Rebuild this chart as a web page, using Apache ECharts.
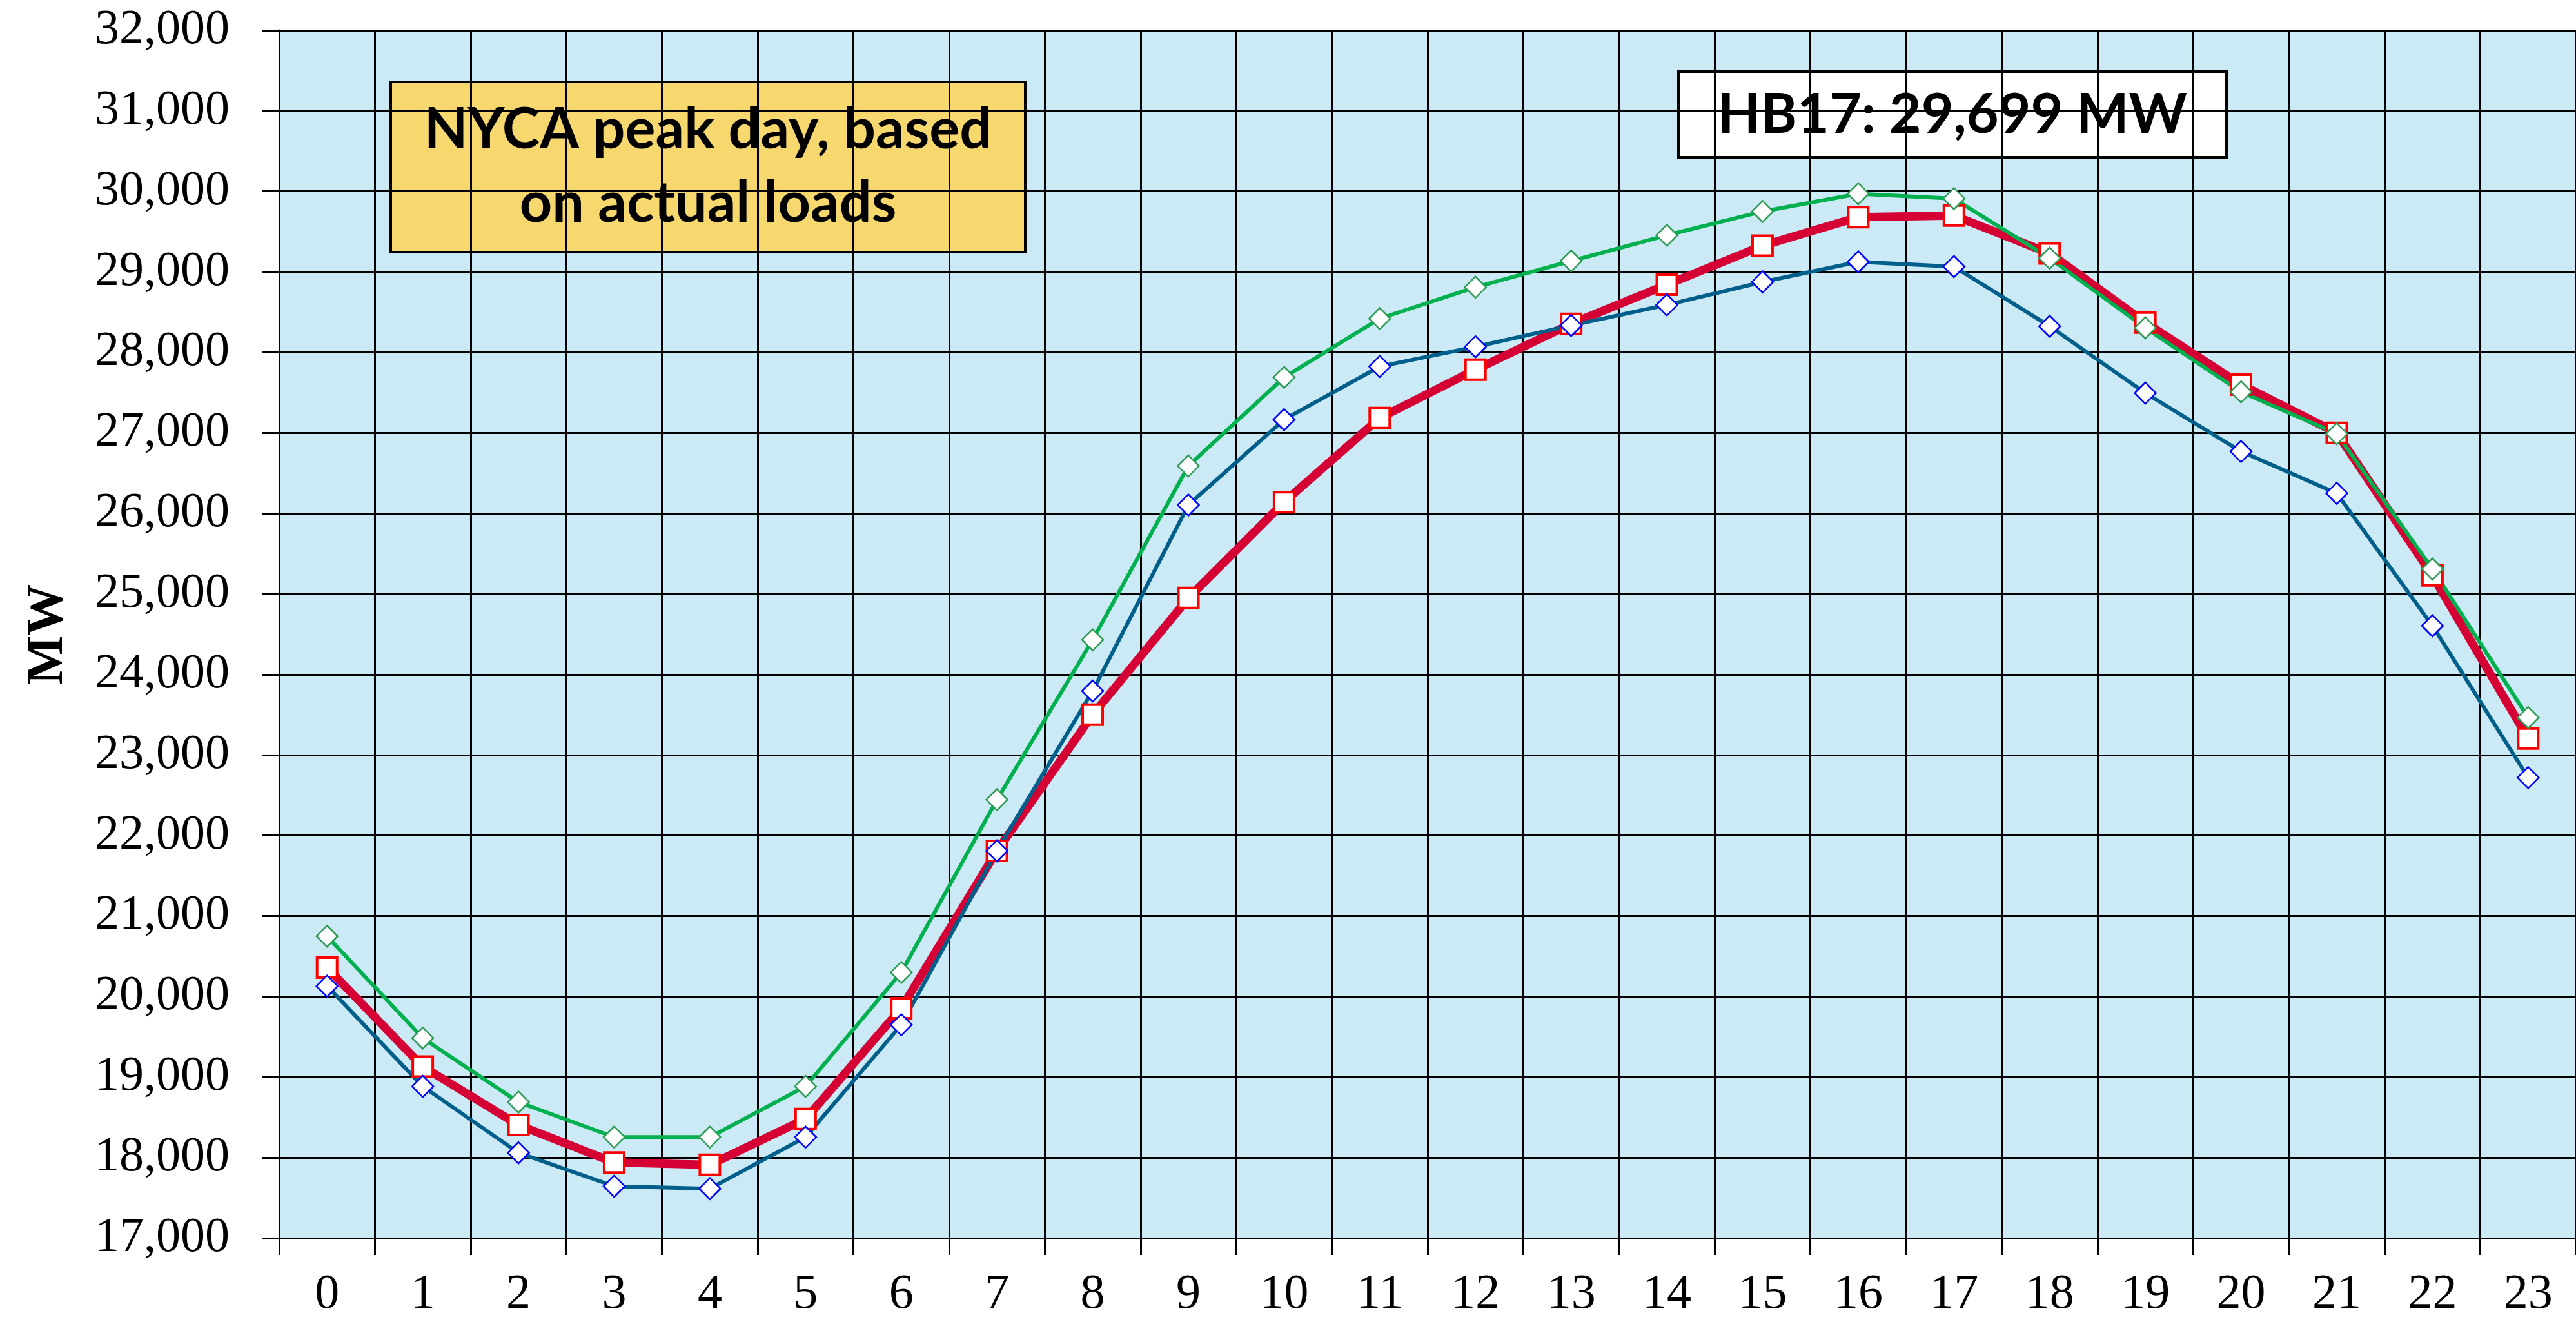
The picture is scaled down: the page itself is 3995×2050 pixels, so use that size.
<!DOCTYPE html>
<html>
<head>
    <meta charset="utf-8">
    <title>NYCA peak day</title>
    <script src="https://cdn.jsdelivr.net/npm/echarts@6/dist/echarts.min.js"></script>
    <style>
        body { margin: 0; background: #fff; }
    </style>
</head>
<body>
    <div id="main" style="width: 3995px;height:2050px;"></div>
    <script type="text/javascript">
// hour of day
var hours = ['0','1','2','3','4','5','6','7','8','9','10','11','12','13','14','15','16','17','18','19','20','21','22','23'];

// peak day, actual loads (red squares)
var actualLoad = [20360, 19130, 18405, 17940, 17910, 18480, 19855, 21810, 23500, 24950, 26140, 27185,
                  27785, 28355, 28840, 29325, 29680, 29699, 29230, 28370, 27600, 27000, 25230, 23205];
// lower profile (blue diamonds)
var profileLow = [20130, 18885, 18060, 17645, 17615, 18255, 19650, 21810, 23795, 26105, 27165, 27825,
                  28070, 28335, 28590, 28875, 29125, 29065, 28325, 27495, 26770, 26250, 24605, 22720];
// upper profile (green diamonds)
var profileHigh = [20750, 19485, 18690, 18255, 18255, 18885, 20300, 22445, 24430, 26590, 27690, 28420,
                   28810, 29135, 29455, 29750, 29970, 29910, 29170, 28305, 27510, 26990, 25310, 23465];

var yMin = 17000, yMax = 32000, yStep = 1000;

var serif = "'Liberation Serif', 'Times New Roman', serif";
var boxFont = "Lato, 'Noto Sans', sans-serif";

function withCommas(v) {
    return String(v).replace(/\B(?=(\d{3})+(?!\d))/g, ',');
}

var myChart = echarts.init(document.getElementById('main'));

option = {
    animation: false,
    backgroundColor: '#ffffff',
    grid: {
        show: true,
        left: 433,
        top: 47,
        width: 3576,
        bottom: 130,
        backgroundColor: '#cceaf5',
        borderWidth: 0
    },
    xAxis: {
        type: 'category',
        data: hours,
        boundaryGap: true,
        axisLine: { show: true, lineStyle: { color: '#000', width: 3 } },
        axisTick: { show: true, interval: 0, length: 26, lineStyle: { color: '#000', width: 3 } },
        splitLine: { show: true, interval: 0, lineStyle: { color: '#000', width: 3 } },
        axisLabel: {
            interval: 0,
            margin: 50,
            color: '#000',
            fontFamily: serif,
            fontSize: 76
        }
    },
    yAxis: {
        type: 'value',
        min: yMin,
        max: yMax,
        interval: yStep,
        name: 'MW',
        nameLocation: 'middle',
        nameGap: 318,
        nameTextStyle: {
            color: '#000',
            fontFamily: serif,
            fontWeight: 'bold',
            fontSize: 80
        },
        axisLine: { show: true, lineStyle: { color: '#000', width: 3 } },
        axisTick: { show: true, length: 26, lineStyle: { color: '#000', width: 3 } },
        splitLine: { show: true, lineStyle: { color: '#000', width: 3 } },
        axisLabel: {
            margin: 77,
            color: '#000',
            fontFamily: serif,
            fontSize: 76,
            formatter: withCommas
        }
    },
    series: [{
        name: 'Actual load',
        type: 'line',
        data: actualLoad,
        symbol: 'rect',
        symbolSize: 31,
        lineStyle: { color: '#d50034', width: 13 },
        itemStyle: { color: '#ffffff', borderColor: '#ff0000', borderWidth: 4 }
    }, {
        name: 'Profile low',
        type: 'line',
        data: profileLow,
        symbol: 'diamond',
        symbolSize: 33,
        lineStyle: { color: '#005f8a', width: 6 },
        itemStyle: { color: '#ffffff', borderColor: '#0000ff', borderWidth: 2.5 }
    }, {
        name: 'Profile high',
        type: 'line',
        data: profileHigh,
        symbol: 'diamond',
        symbolSize: 33,
        lineStyle: { color: '#00b04f', width: 6 },
        itemStyle: { color: '#ffffff', borderColor: '#2e9b57', borderWidth: 2.5 }
    }],
    graphic: [{
        type: 'group',
        z: 100,
        children: [{
            type: 'rect',
            shape: { x: 606, y: 127, width: 984, height: 264 },
            style: { fill: '#f6d86e', stroke: '#000', lineWidth: 4 }
        }, {
            type: 'text',
            x: 1098,
            y: 259,
            style: {
                text: 'NYCA peak day, based\non actual loads',
                font: 'bold 88px ' + boxFont,
                lineHeight: 114,
                fill: '#000',
                align: 'center',
                verticalAlign: 'middle'
            }
        }, {
            type: 'rect',
            shape: { x: 2603, y: 111, width: 850, height: 133 },
            style: { fill: '#ffffff', stroke: '#000', lineWidth: 4 }
        }, {
            type: 'text',
            x: 3028,
            y: 178,
            style: {
                text: 'HB17: 29,699 MW',
                font: 'bold 86px ' + boxFont,
                fill: '#000',
                align: 'center',
                verticalAlign: 'middle'
            }
        }]
    }]
};

myChart.setOption(option);
    </script>
</body>
</html>
